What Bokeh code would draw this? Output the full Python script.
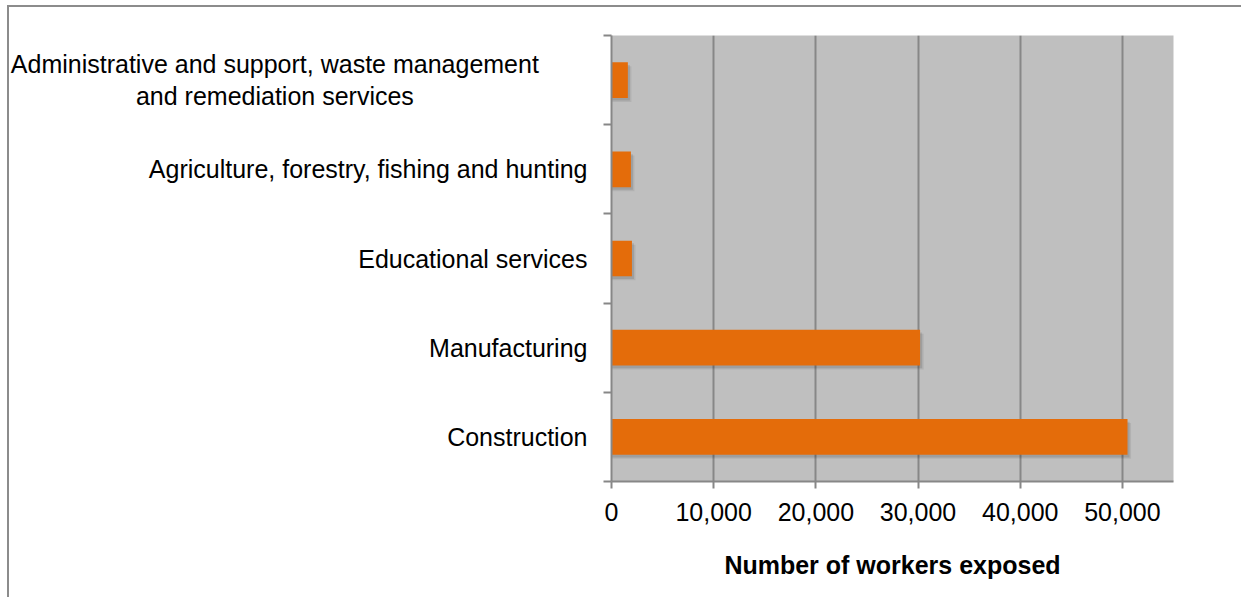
from bokeh.plotting import figure
from bokeh.models import (FixedTicker, NumeralTickFormatter, Range1d,
                          ColumnDataSource, InlineStyleSheet)
from bokeh.transform import dodge
from bokeh.embed import file_html
from bokeh.resources import INLINE

categories = [
    "Construction",
    "Manufacturing",
    "Educational services",
    "Agriculture, forestry, fishing and hunting",
    "Administrative and support, waste management\nand remediation services",
]
workers = [50500, 30200, 2000, 1900, 1600]
x_ticks = [0, 10000, 20000, 30000, 40000, 50000]
x_title = "Number of workers exposed"

FONT = "Liberation Sans"
FS = "25px"
GRAY = "#878787"
NB = "\u00a0"


def centred_lines(label, pads):
    # wrapped label lines are drawn centred on one another, as in the source chart
    return "\n".join(line + NB * n for line, n in zip(label.split("\n"), pads))


ypos = [i + 0.5 for i in range(len(categories))]
src = ColumnDataSource(dict(y=ypos, v=workers))

border_css = InlineStyleSheet(css="""
:host::after {
  content: '';
  position: absolute;
  left: 7px; top: 5px; right: 0; bottom: 0;
  border-top: 2px solid #8c8c8c;
  border-left: 2px solid #8c8c8c;
  pointer-events: none;
}
""")

p = figure(width=1241, height=597, output_backend="svg", toolbar_location=None,
           x_range=Range1d(0, 55000), y_range=Range1d(0, len(categories)),
           min_border_left=611, min_border_right=68, min_border_top=35,
           min_border_bottom=116, stylesheets=[border_css])
p.background_fill_color = "#BFBFBF"
p.border_fill_color = "white"
p.outline_line_color = None

# grid
p.ygrid.visible = False
p.xgrid.ticker = FixedTicker(ticks=x_ticks)
p.xgrid.grid_line_color = GRAY
p.xgrid.grid_line_width = 2

# shadows
p.hbar(y=dodge('y', -0.03), left=0, right=dodge('v', 200), height=0.4, source=src,
       fill_color="black", fill_alpha=0.10, line_color=None)
p.hbar(y=dodge('y', -0.045), left=0, right=dodge('v', 350), height=0.4, source=src,
       fill_color="black", fill_alpha=0.07, line_color=None)
# bars
p.hbar(y='y', left=0, right='v', height=0.4, source=src,
       fill_color="#E46C0A", line_color=None)

# y axis
labels = list(categories)
labels[-1] = centred_lines(labels[-1], [7, 25])
p.yaxis.ticker = FixedTicker(ticks=ypos, minor_ticks=list(range(len(categories) + 1)))
p.yaxis.major_label_overrides = {y: c for y, c in zip(ypos, labels)}
p.yaxis.major_tick_out = 0
p.yaxis.major_tick_in = 0
p.yaxis.minor_tick_out = 8
p.yaxis.minor_tick_in = 0
p.yaxis.minor_tick_line_color = GRAY
p.yaxis.minor_tick_line_width = 2
p.yaxis.axis_line_color = GRAY
p.yaxis.axis_line_width = 2
p.yaxis.major_label_standoff = 16
p.yaxis.major_label_text_font = FONT
p.yaxis.major_label_text_font_size = FS
p.yaxis.major_label_text_color = "black"
p.yaxis.major_label_text_line_height = 1.12

# x axis
p.xaxis.ticker = FixedTicker(ticks=x_ticks)
p.xaxis.formatter = NumeralTickFormatter(format="0,0")
p.xaxis.major_tick_out = 7
p.xaxis.major_tick_in = 0
p.xaxis.minor_tick_out = 0
p.xaxis.minor_tick_in = 0
p.xaxis.major_tick_line_color = GRAY
p.xaxis.major_tick_line_width = 2
p.xaxis.axis_line_color = GRAY
p.xaxis.axis_line_width = 2
p.xaxis.major_label_standoff = 14
p.xaxis.major_label_text_font = FONT
p.xaxis.major_label_text_font_size = FS
p.xaxis.major_label_text_color = "black"
p.xaxis.axis_label = x_title
p.xaxis.axis_label_text_font = FONT
p.xaxis.axis_label_text_font_size = FS
p.xaxis.axis_label_text_font_style = "bold"
p.xaxis.axis_label_text_color = "black"
p.xaxis.axis_label_standoff = 27

open("out.html", "w").write(file_html(p, INLINE))
